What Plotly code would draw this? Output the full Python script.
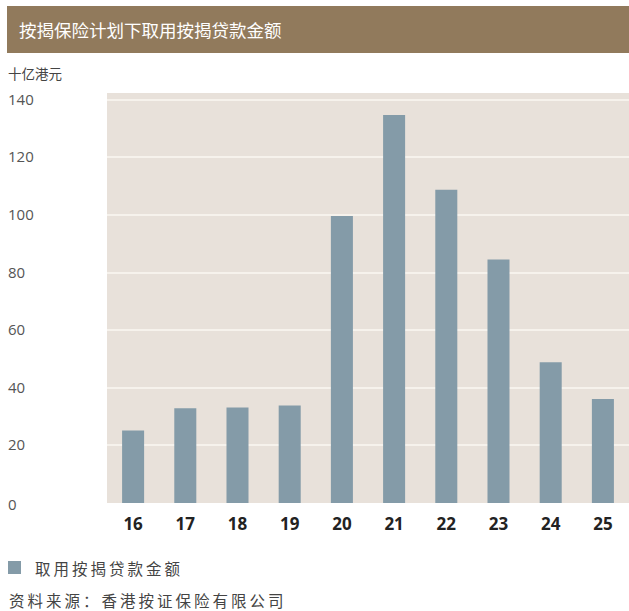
import json
import plotly.graph_objects as go

categories = ["16", "17", "18", "19", "20", "21", "22", "23", "24", "25"]
values = [25.2, 32.9, 33.2, 33.9, 99.7, 134.8, 108.8, 84.6, 48.9, 36.1]
y_ticks = [0, 20, 40, 60, 80, 100, 120, 140]
series_name = "取用按揭贷款金额"
title_text = "按揭保险计划下取用按揭贷款金额"
unit_text = "十亿港元"
source_text = "资料来源：香港按证保险有限公司"
bar_color = "#849ba8"

W, H = 629, 611
L, R, T, B = 107, 0, 93, 108
pw = W - L - R
ph = H - T - B

def px_x(x):
    return (x - L) / pw

def px_y(y):
    return (H - B - y) / ph

CJK = "Noto Sans CJK SC"

fig = go.Figure()
fig.add_trace(go.Bar(
    x=categories, y=values, name=series_name,
    marker=dict(color=bar_color, line=dict(width=0)),
))

fig.update_layout(
    width=W, height=H, autosize=False,
    margin=dict(l=L, r=R, t=T, b=B, pad=0),
    paper_bgcolor="white",
    plot_bgcolor="#e8e1da",
    bargap=0.578,
    showlegend=False,
    xaxis=dict(
        showgrid=False, zeroline=False, showline=False,
        ticks="outside", ticklen=6, tickcolor="rgba(0,0,0,0)",
        tickfont=dict(family="Open Sans", size=17, color="#222", weight=700),
    ),
    yaxis=dict(
        range=[0, 142.4], tickvals=y_ticks, showticklabels=False,
        showgrid=True, gridcolor="#f6f2ec", gridwidth=1.5,
        zeroline=False, showline=False,
    ),
)

# y tick labels, left-aligned as in the reference
for v in y_ticks:
    fig.add_annotation(
        x=px_x(6), xref="paper", y=v, yref="y", xanchor="left", yanchor="middle",
        text=str(v), showarrow=False, yshift=-1 if v == 0 else 1,
        font=dict(family="Open Sans", size=15, color="#555"),
    )

# title banner
fig.add_shape(type="rect", xref="paper", yref="paper",
              x0=px_x(7), x1=1, y0=px_y(53), y1=px_y(6),
              fillcolor="#917a5c", line=dict(width=0), layer="above")
fig.add_annotation(x=px_x(17), xref="paper", y=px_y(29.5), yref="paper",
                   xanchor="left", yanchor="middle", text=title_text, showarrow=False,
                   font=dict(family=CJK, size=17.5, color="white"))

fig.add_annotation(x=px_x(6), xref="paper", y=px_y(73), yref="paper",
                   xanchor="left", yanchor="middle", text=unit_text, showarrow=False,
                   font=dict(family=CJK, size=13.5, color="#444"))

# legend (drawn manually so it does not push the margins)
fig.add_shape(type="rect", xref="paper", yref="paper",
              x0=px_x(8), x1=px_x(21), y0=px_y(574), y1=px_y(561),
              fillcolor=bar_color, line=dict(width=0))
fig.add_annotation(x=px_x(33), xref="paper", y=px_y(568), yref="paper",
                   xanchor="left", yanchor="middle", text=series_name, showarrow=False,
                   font=dict(family=CJK, size=15.5, color="#444"))

fig.add_annotation(x=px_x(7), xref="paper", y=px_y(600), yref="paper",
                   xanchor="left", yanchor="middle", text=source_text, showarrow=False,
                   font=dict(family=CJK, size=15.5, color="#444"))

spaced = json.dumps([series_name, source_text])
post = (
    "document.body.style.margin='0';document.body.style.overflow='hidden';"
    "var sp=" + spaced + ";"
    "document.querySelectorAll('text.annotation-text').forEach(function(t){"
    "if(sp.indexOf(t.textContent)>=0){"
    "var w0=t.getComputedTextLength();"
    "t.style.letterSpacing='3px';"
    "var w1=t.getComputedTextLength();"
    "var x0=parseFloat(t.getAttribute('x')||'0');"
    "t.setAttribute('x', x0+(w1-w0)/2);"
    "}});"
)

fig.write_html(
    "out.html",
    config={"displayModeBar": False, "responsive": False},
    post_script=post,
)
